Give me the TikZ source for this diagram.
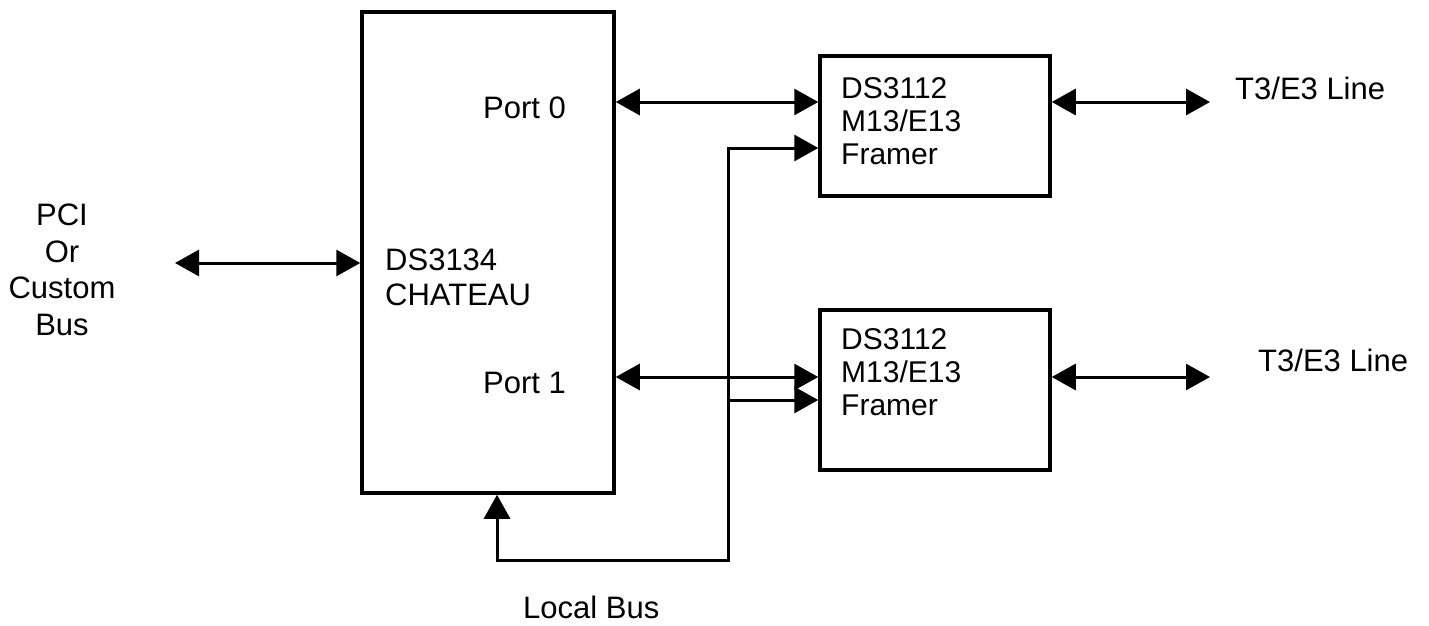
\documentclass[tikz,border=0pt]{standalone}
\usepackage{fontspec}
\setmainfont{Liberation Sans}
\usetikzlibrary{arrows.meta, positioning}

\begin{document}
\begin{tikzpicture}[x=1pt, y=-1pt, >={Triangle[length=24pt, width=26pt]},
        chip/.style={draw, line width=3.5pt, inner sep=0pt},
        bus/.style={line width=3pt},
        lbl/.style={inner sep=0pt, anchor=north west, align=left, font=\fontsize{31}{35}\selectfont}]
        \path[use as bounding box, fill=white] (0,0) rectangle (1429,626);

        \node[chip, minimum width=252pt, minimum height=481pt] (chateau) at (488,252.5) {};
        \node[chip, minimum width=230pt, minimum height=140pt] (fa) at (935,126) {};
        \node[chip, minimum width=230pt, minimum height=160pt] (fb) at (935,390) {};

        \node[lbl] (port0) at (483,97) {Port 0};
        \node[lbl] (port1) at (483,372) {Port 1};
        \node[lbl] (chname) at (385,249) {DS3134\\CHATEAU};
        \node[lbl, anchor=north, align=center, font=\fontsize{31}{36.5}\selectfont] (pci) at (62,204) {PCI\\Or\\Custom\\Bus};
        \node[lbl, font=\fontsize{30}{33}\selectfont] (faname) at (841,77) {DS3112\\M13/E13\\Framer};
        \node[lbl, font=\fontsize{30}{33}\selectfont] (fbname) at (841,328) {DS3112\\M13/E13\\Framer};
        \node[lbl] (linea) at (1235,77) {T3/E3 Line};
        \node[lbl] (lineb) at (1258,349) {T3/E3 Line};
        \node[lbl] (localbus) at (523,596) {Local Bus};

        \coordinate (rowpci) at (175,263);
        \coordinate (row0) at (1210,102);
        \coordinate (row0b) at (0,148);
        \coordinate (row1) at (1210,377);
        \coordinate (row1b) at (0,400);
        \coordinate (lbx) at (497,0);
        \coordinate (lbcorner) at (728,560);

        \path[bus, <->]
        (rowpci) edge (chateau.west |- rowpci)
        (chateau.east |- row0) edge (fa.west |- row0)
        (fa.east |- row0) edge (row0)
        (chateau.east |- row1) edge (fb.west |- row1)
        (fb.east |- row1) edge (row1);

        \draw[bus, <->] (chateau.south -| lbx) |- (lbcorner) |- (fa.west |- row0b);
        \draw[bus, ->] (lbcorner |- row1b) -- (fb.west |- row1b);
\end{tikzpicture}
\end{document}
